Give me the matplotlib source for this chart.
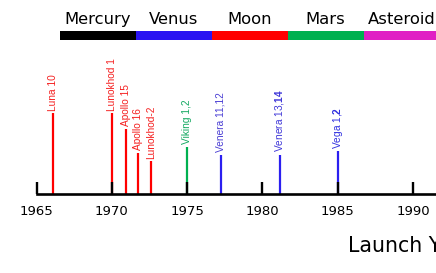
import matplotlib
matplotlib.use("Agg")
import matplotlib.pyplot as plt
from matplotlib.transforms import blended_transform_factory

plt.rcParams['mathtext.fontset'] = 'custom'
plt.rcParams['mathtext.rm'] = 'Liberation Sans'
plt.rcParams['mathtext.bf'] = 'Liberation Sans:bold'

# ---- data ----
targets = ['Mercury', 'Venus', 'Moon', 'Mars', 'Asteroid']
target_colors = ['#000000', '#2a14f2', '#ff0000', '#00b050', '#e020c4']

missions = ['Luna 10', 'Lunokhod 1', 'Apollo 15', 'Apollo 16', 'Lunokhod-2',
            'Viking 1,2', 'Venera 11,12', 'Venera 13,$\\mathbf{14}$', 'Vega 1,$\\mathbf{2}$']
years = [1966.1, 1970.0, 1970.95, 1971.75, 1972.6, 1975.0, 1977.25, 1981.15, 1985.0]
heights = [57.6, 57.6, 46.4, 29.3, 23.3, 33.6, 27.9, 27.9, 30.4]
line_colors = ['#ff0000'] * 5 + ['#00b050'] + ['#2b1ff0'] * 3
text_colors = ['#f52020'] * 5 + ['#12a860'] + ['#4b3fd4', '#4038d8', '#3030e0']

tick_years = [1965, 1970, 1975, 1980, 1985, 1990, 1995]
xlabel = 'Launch Year'

W, H = 436, 273
fig = plt.figure(figsize=(W / 100, H / 100), dpi=100)

# ---- main timeline axes ----
px_per_year = 15.06
x0 = 36.5
xmin, xmax = 1965, 1995
ax = fig.add_axes([x0 / W, 1 - 194 / H, (xmax - xmin) * px_per_year / W, 140 / H])
ax.set_xlim(xmin, xmax)
ax.set_ylim(0, 100)
for s in ['left', 'right', 'top']:
    ax.spines[s].set_visible(False)
ax.spines['bottom'].set_linewidth(1.9)
ax.spines['bottom'].set_color('black')
ax.set_yticks([])
ax.set_xticks(tick_years)
ax.set_xticklabels([str(t) for t in tick_years])
ax.tick_params(axis='x', direction='in', length=8.6, width=1.7, pad=8,
               labelsize=9.5, colors='black')
ax.set_axisbelow(False)

ax.vlines(years, 0, heights, colors=line_colors, linewidth=1.6, zorder=2)
for m, yr, h, c in zip(missions, years, heights, text_colors):
    ax.annotate(m, (yr, h), xytext=(0, 2), textcoords='offset points',
                rotation=90, ha='center', va='bottom', color=c,
                fontsize=7.3, family='Liberation Sans', annotation_clip=False)

ax.set_xlabel(xlabel, fontsize=14.8, ha='left', va='baseline')
ax.xaxis.set_label_coords((348 - x0) / ((xmax - xmin) * px_per_year), (194 - 251.7) / 140)

# ---- target colour band ----
seg_w = 75.9
ax2 = fig.add_axes([60 / W, 1 - 40.3 / H, len(targets) * seg_w / W, 9.3 / H])
ax2.barh([0] * len(targets), [1] * len(targets), left=list(range(len(targets))),
         height=1, color=target_colors)
ax2.set_xlim(0, len(targets))
ax2.set_ylim(-0.5, 0.5)
ax2.axis('off')
tr = blended_transform_factory(ax2.transData, ax2.transAxes)
for i, t in enumerate(targets):
    ax2.text(i + 0.5, 1 + (31 - 24.3) / 9.3, t, transform=tr, ha='center',
             va='baseline', fontsize=11.8, color='black')

fig.savefig('out.png', dpi=100)
